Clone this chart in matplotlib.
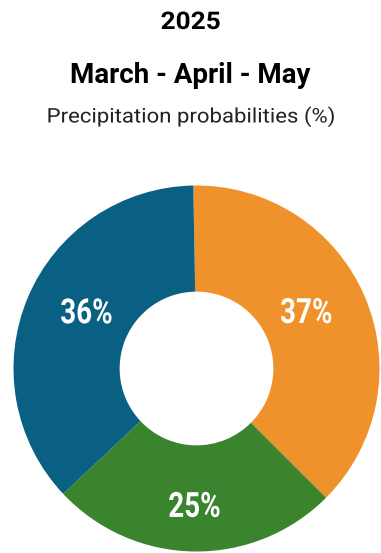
import numpy as np
import matplotlib
matplotlib.use("Agg")
import matplotlib.pyplot as plt
from matplotlib.patheffects import AbstractPathEffect
from matplotlib.transforms import Affine2D

# Chart data
categories = ["Above normal", "Normal", "Below normal"]
values = [37, 25, 36]
colors = ["#F0922B", "#3A842E", "#0A6082"]

year = "2025"
season = "March - April - May"
subtitle = "Precipitation probabilities (%)"

W, H = 381, 553


# Stretch/squeeze text horizontally around its anchor x (display pixels)
class Stretch(AbstractPathEffect):
    def __init__(self, sx, x0):
        super().__init__()
        self.sx = sx
        self.x0 = x0

    def draw_path(self, renderer, gc, tpath, affine, rgbFace=None):
        t = affine + Affine2D().translate(-self.x0, 0).scale(self.sx, 1).translate(self.x0, 0)
        renderer.draw_path(gc, tpath, t, rgbFace)


fig = plt.figure(figsize=(W / 100, H / 100), dpi=100)

# Donut position (pixels from top-left of the reference)
cx, cy, r = 196.5, 368.5, 183
ax = fig.add_axes([(cx - r) / W, (H - cy - r) / H, 2 * r / W, 2 * r / H])

wedges, _ = ax.pie(
    values, colors=colors, startangle=91, counterclock=False, radius=1,
    wedgeprops=dict(width=0.58, linewidth=0),
)
ax.set_xlim(-1, 1)
ax.set_ylim(-1, 1)
ax.axis("off")

# label radius and angle nudge for each wedge
label_r = [0.68, 0.74, 0.68]
label_nudge = [5, 0, -5]
for w, v, lr, dn in zip(wedges, values, label_r, label_nudge):
    ang = np.deg2rad((w.theta1 + w.theta2) / 2 + dn)
    x, y = lr * np.cos(ang), lr * np.sin(ang)
    x0 = ax.transData.transform((x, y))[0]
    ax.text(x, y, f"{v}%", ha="center", va="center_baseline", color="white",
            fontsize=25, fontweight="bold", family="Roboto",
            path_effects=[Stretch(0.8, x0)])

fig.text(0.5, 1 - 29 / H, year, ha="center", va="baseline",
         fontsize=17.5, fontweight="bold", family="Roboto",
         path_effects=[Stretch(1.08, W / 2)])
fig.text(0.5, 1 - 83 / H, season, ha="center", va="baseline",
         fontsize=20, fontweight="bold", family="Roboto")
fig.text(0.5, 1 - 122.5 / H, subtitle, ha="center", va="baseline",
         fontsize=14.5, family="Roboto", color="#222222",
         path_effects=[Stretch(1.1, W / 2)])

fig.savefig("out.png", dpi=100)
